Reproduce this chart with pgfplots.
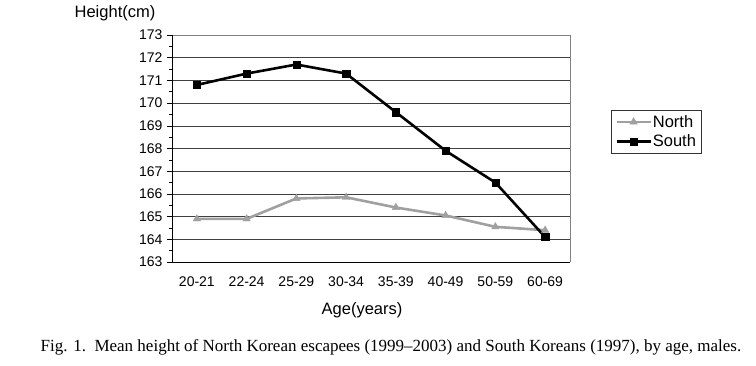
\documentclass[border=0pt]{standalone}
\usepackage{pgfplots}
\pgfplotsset{compat=1.18}
\usepackage{fontspec}
\setmainfont{Liberation Serif}
\newfontfamily\arial{Liberation Sans}
\definecolor{northgray}{RGB}{160,160,160}
\begin{document}
\begin{tikzpicture}
\useasboundingbox (0pt,0pt) rectangle (756pt,365pt);
\begin{axis}[
  at={(172pt,103pt)}, anchor=south west,
  scale only axis, width=398pt, height=227pt,
  xmin=-0.5, xmax=7.5, ymin=163, ymax=173,
  xtick={0,...,7},
  xticklabels={20-21,22-24,25-29,30-34,35-39,40-49,50-59,60-69},
  major x tick style={draw=none},
  extra x ticks={0.5,1.5,2.5,3.5,4.5,5.5,6.5},
  extra x tick labels={},
  extra x tick style={major tick length=8pt, tick style={draw=black, line width=0.8pt}, tick align=center, grid=none},
  ytick={163,...,173},
  minor y tick num=1,
  tick align=outside,
  major tick length=5pt, minor tick length=3pt,
  ymajorgrids, grid style={black!75, line width=0.6pt},
  axis line style={draw=none},
  tick style={black, line width=0.6pt},
  xtick pos=bottom, ytick pos=left,
  ticklabel style={font=\arial\fontsize{14}{16}\selectfont},
  /pgf/number format/assume math mode=true,
  yticklabel style={xshift=-1pt},
  xticklabel style={yshift=-6pt},
  legend style={at={(1.103,0.67)}, anchor=north west, font=\arial\fontsize{16.5}{18}\selectfont, draw=black!80, line width=0.6pt, inner xsep=4pt, inner ysep=4pt, row sep=4pt, nodes={inner sep=1pt}},
  legend cell align=left,
  legend image code/.code={\draw[mark repeat=2,mark phase=2,line width=2.6pt,#1] plot coordinates {(0pt,0pt) (17pt,0pt) (34pt,0pt)};},
  clip=false,
]
\draw[black!50, line width=0.6pt] (axis cs:-0.5,173) -- (axis cs:7.5,173) -- (axis cs:7.5,163);
\draw[black, line width=0.8pt] (axis cs:-0.5,173) -- (axis cs:-0.5,163) -- (axis cs:7.5,163);
\addplot[northgray, line width=2.6pt, mark=triangle*, mark size=4.3pt, mark options={line width=0.4pt}] coordinates {
(0,164.9) (1,164.9) (2,165.8) (3,165.85) (4,165.4) (5,165.05) (6,164.55) (7,164.4)};
\addlegendentry{North}
\addplot[black, line width=2.6pt, mark=square*, mark size=3.6pt, mark options={line width=0.4pt}] coordinates {
(0,170.8) (1,171.3) (2,171.7) (3,171.3) (4,169.6) (5,167.9) (6,166.5) (7,164.1)};
\addlegendentry{South}
\end{axis}
\node[font=\arial\fontsize{16.5}{18}\selectfont] at (115pt,352pt) {Height(cm)};
\node[font=\arial\fontsize{16.5}{18}\selectfont] at (362pt,55pt) {Age(years)};
\node[font=\fontsize{17}{19}\selectfont] at (391pt,18pt) {Fig. 1.\ \ Mean height of North Korean escapees (1999--2003) and South Koreans (1997), by age, males.};
\end{tikzpicture}
\end{document}
